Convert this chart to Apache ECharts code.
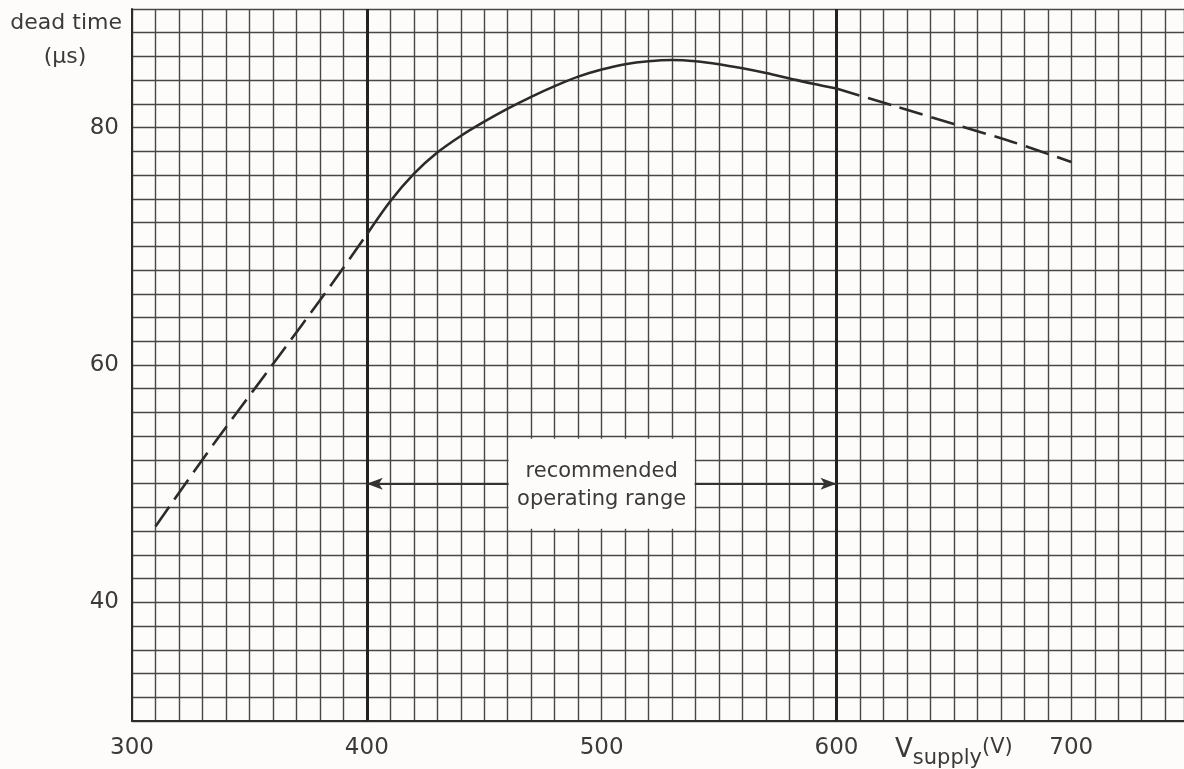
<!DOCTYPE html>
<html>
<head>
<meta charset="utf-8">
<script src="https://cdn.jsdelivr.net/npm/echarts@6/dist/echarts.min.js"></script>
<style>
  html, body { margin: 0; padding: 0; background: #fdfcfa; }
  #chart { width: 1184px; height: 769px; }
</style>
</head>
<body>
<div id="chart"></div>
<script>
// curve: dashed below 400 V, solid 400-600 V, dashed above 600 V
const lowVolts = [310, 335, 359, 385, 400]
const lowDead = [46.4, 53.4, 59.8, 66.8, 71.0]
const midVolts = [400, 410, 420, 430, 440, 450, 460, 470, 480, 490, 500, 510, 520, 530, 540, 550, 560, 570, 580, 590, 600]
const midDead = [71.0, 73.8, 76.1, 77.9, 79.3, 80.5, 81.6, 82.6, 83.5, 84.3, 84.9, 85.35, 85.6, 85.7, 85.6, 85.35, 85.0, 84.6, 84.15, 83.7, 83.3]
const highVolts = [600, 625, 650, 675, 700]
const highDead = [83.3, 81.8, 80.3, 78.8, 77.1]

const xTickLabels = [300, 400, 500, 600, 700]
const yTickLabels = [40, 60, 80]
const rangeEnds = [400, 600]
const rangeLevel = 50
const rangeMid = 500

const pairs = (xs, ys) => xs.map((x, i) => [x, ys[i]])

const ink = '#2b2b2b'
const textInk = '#3a3a3a'
const gridInk = '#474747'
const paper = '#fdfcfa'
const font = 'DejaVu Sans'

const chart = echarts.init(document.getElementById('chart'))

const option = {
  animation: false,
  backgroundColor: paper,
  grid: { left: 132, right: 0, top: 9, bottom: 48, outerBoundsMode: 'none', containLabel: false },
  xAxis: {
    type: 'value',
    min: 300,
    max: 748,
    interval: 10,
    axisLine: { show: true, lineStyle: { color: ink, width: 2 } },
    axisTick: { show: false },
    splitLine: { show: true, lineStyle: { color: gridInk, width: 1.4 } },
    axisLabel: {
      interval: 0,
      margin: 16,
      color: textInk,
      fontFamily: font,
      fontSize: 23,
      formatter: (v) => {
        if (xTickLabels.includes(v)) return String(v)
        if (v === 650) return '{v|V}{s|supply}{p|(V)}'
        return ''
      },
      // tokens top-aligned; the subscript is pushed down by its top padding
      rich: {
        v: { fontFamily: font, fontSize: 26, color: textInk, verticalAlign: 'top' },
        s: { fontFamily: font, fontSize: 21, color: textInk, verticalAlign: 'top', padding: [11, 0, 0, 0] },
        p: { fontFamily: font, fontSize: 21, color: textInk, verticalAlign: 'top' }
      }
    }
  },
  yAxis: {
    type: 'value',
    min: 30,
    max: 90,
    interval: 2,
    name: '{a|dead time}\n{b|(\u03bcs)}',
    nameLocation: 'end',
    nameGap: -31,
    nameTextStyle: {
      align: 'right',
      verticalAlign: 'middle',
      padding: [0, 10, 0, 0],
      rich: {
        a: { fontFamily: font, fontSize: 22, color: textInk, lineHeight: 34 },
        b: { fontFamily: font, fontSize: 22, color: textInk, lineHeight: 34, width: 114, align: 'center' }
      }
    },
    axisLine: { show: true, lineStyle: { color: ink, width: 2 } },
    axisTick: { show: false },
    splitLine: { show: true, lineStyle: { color: gridInk, width: 1.4 } },
    axisLabel: {
      interval: 0,
      margin: 13,
      color: textInk,
      fontFamily: font,
      fontSize: 23,
      padding: [6, 0, 0, 0],
      formatter: (v) => (yTickLabels.includes(v) ? String(v) : '')
    }
  },
  series: [
    {
      name: 'low',
      type: 'line',
      smooth: 0.3,
      symbol: 'none',
      data: pairs(lowVolts, lowDead),
      lineStyle: { color: ink, width: 2.6, type: [24, 9] },
      z: 5
    },
    {
      name: 'range',
      type: 'line',
      smooth: 0.3,
      symbol: 'none',
      data: pairs(midVolts, midDead),
      lineStyle: { color: ink, width: 2.6 },
      z: 5,
      markLine: {
        silent: true,
        symbol: ['none', 'none'],
        label: { show: false },
        data: [
          ...rangeEnds.map((v) => ({
            xAxis: v,
            lineStyle: { color: '#222', width: 3, type: 'solid' }
          })),
          [
            { coord: [rangeEnds[0], rangeLevel], symbol: 'arrow', symbolSize: [9, 16] },
            {
              coord: [rangeEnds[1], rangeLevel],
              symbol: 'arrow',
              symbolSize: [9, 16],
              lineStyle: { color: '#333', width: 2.2, type: 'solid' }
            }
          ]
        ]
      },
      markPoint: {
        silent: true,
        data: [
          {
            coord: [rangeMid, rangeLevel],
            symbol: 'rect',
            symbolSize: [186, 90],
            itemStyle: { color: paper },
            label: {
              show: true,
              position: 'inside',
              offset: [0, 2],
              formatter: 'recommended\noperating range',
              fontFamily: font,
              fontSize: 21,
              lineHeight: 28,
              color: textInk
            }
          }
        ]
      }
    },
    {
      name: 'high',
      type: 'line',
      smooth: 0.3,
      symbol: 'none',
      data: pairs(highVolts, highDead),
      lineStyle: { color: ink, width: 2.6, type: [24, 9] },
      z: 5
    }
  ]
}

chart.setOption(option)
</script>
</body>
</html>
